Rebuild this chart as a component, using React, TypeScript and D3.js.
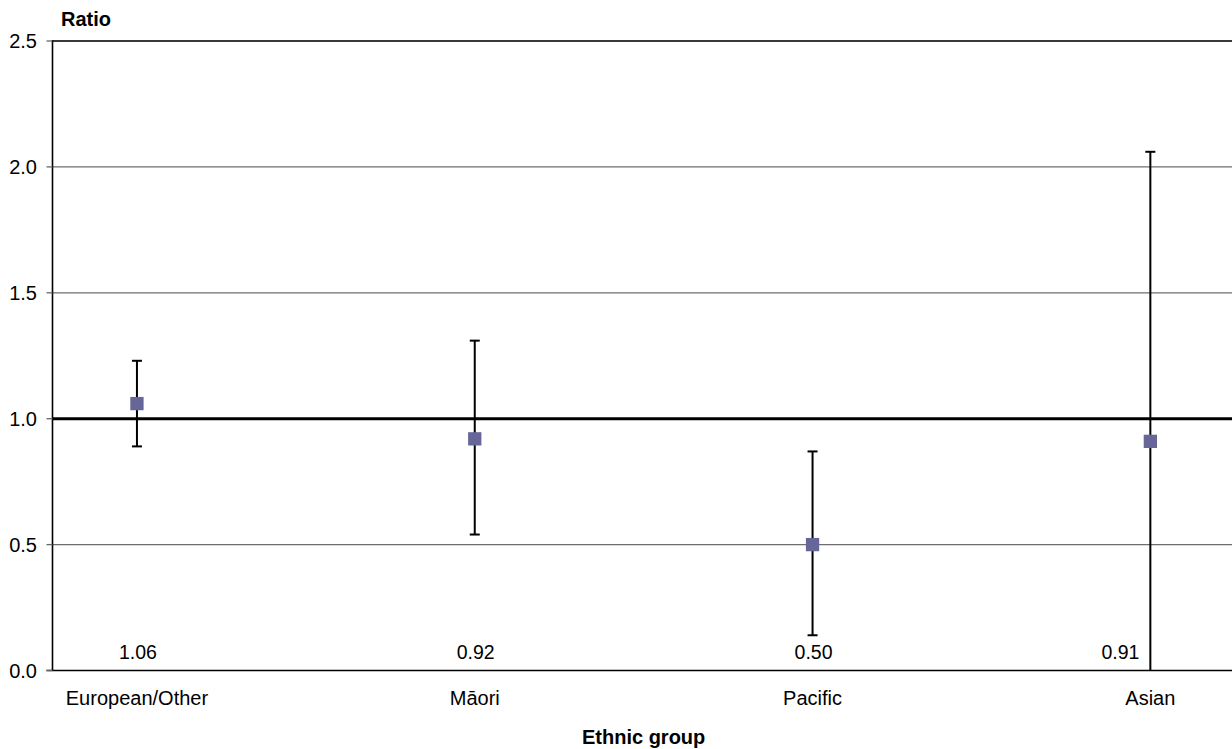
import React from "react";
import * as d3 from "d3";

const categories = ["European/Other", "Māori", "Pacific", "Asian"];
const ratios = [1.06, 0.92, 0.5, 0.91];
const lowerCI = [0.89, 0.54, 0.14, 0.0];
const upperCI = [1.23, 1.31, 0.87, 2.06];
const valueLabels = ["1.06", "0.92", "0.50", "0.91"];
const yTicks = [0, 0.5, 1.0, 1.5, 2.0, 2.5];

const W = 1232;
const H = 749;
const left = 52.5;
const right = 1234.8;
const top = 41;
const bottom = 670.5;
const FONT = "Liberation Sans, Arial, Helvetica, sans-serif";

export default function App() {
  const x = d3.scalePoint<string>().domain(categories).range([left, right]).padding(0.25);
  const y = d3.scaleLinear().domain([0, 2.5]).range([bottom, top]);
  const ms = 13.3;
  const cap = 5;

  return (
    <svg
      width={W}
      height={H}
      style={{ position: "absolute", left: 0, top: 0, background: "#fff" }}
      fontFamily={FONT}
    >
      {yTicks
        .filter((t) => t !== 0 && t !== 1)
        .map((t) => (
          <line
            key={"g" + t}
            x1={left}
            x2={W}
            y1={y(t)}
            y2={y(t)}
            stroke={t === 2.5 ? "#3a3a3a" : "#6e6e6e"}
            strokeWidth={t === 2.5 ? 2 : 1.3}
          />
        ))}
      <line x1={left} x2={W} y1={y(1)} y2={y(1)} stroke="#000" strokeWidth={3} />
      <line x1={left} x2={left} y1={top - 1} y2={bottom} stroke="#000" strokeWidth={1.6} />
      <line x1={left - 6} x2={W} y1={bottom} y2={bottom} stroke="#000" strokeWidth={1.6} />
      {yTicks.map((t) => (
        <g key={"t" + t}>
          <line x1={left - 6} x2={left} y1={y(t)} y2={y(t)} stroke="#666" strokeWidth={1.3} />
          <text x={37} y={y(t) + 7} textAnchor="end" fontSize={20} fill="#000">
            {t.toFixed(1)}
          </text>
        </g>
      ))}
      <text x={61} y={26} fontSize={20} fontWeight="bold" fill="#000">
        Ratio
      </text>
      {categories.map((c, i) => {
        const cx = x(c)!;
        const crowded = lowerCI[i] === 0;
        return (
          <g key={c}>
            <line x1={cx} x2={cx} y1={y(lowerCI[i])} y2={y(upperCI[i])} stroke="#000" strokeWidth={2} />
            <line x1={cx - cap} x2={cx + cap} y1={y(upperCI[i])} y2={y(upperCI[i])} stroke="#000" strokeWidth={2} />
            {lowerCI[i] > 0 && (
              <line x1={cx - cap} x2={cx + cap} y1={y(lowerCI[i])} y2={y(lowerCI[i])} stroke="#000" strokeWidth={2} />
            )}
            <rect x={cx - ms / 2} y={y(ratios[i]) - ms / 2} width={ms} height={ms} fill="#666699" />
            <text
              x={crowded ? cx - 11 : cx + 1}
              y={659}
              textAnchor={crowded ? "end" : "middle"}
              fontSize={19.5}
              fill="#000"
            >
              {valueLabels[i]}
            </text>
            <text x={cx} y={704.5} textAnchor="middle" fontSize={20} fill="#000">
              {c}
            </text>
          </g>
        );
      })}
      <text x={(left + right) / 2} y={743.5} textAnchor="middle" fontSize={20} fontWeight="bold" fill="#000">
        Ethnic group
      </text>
    </svg>
  );
}
